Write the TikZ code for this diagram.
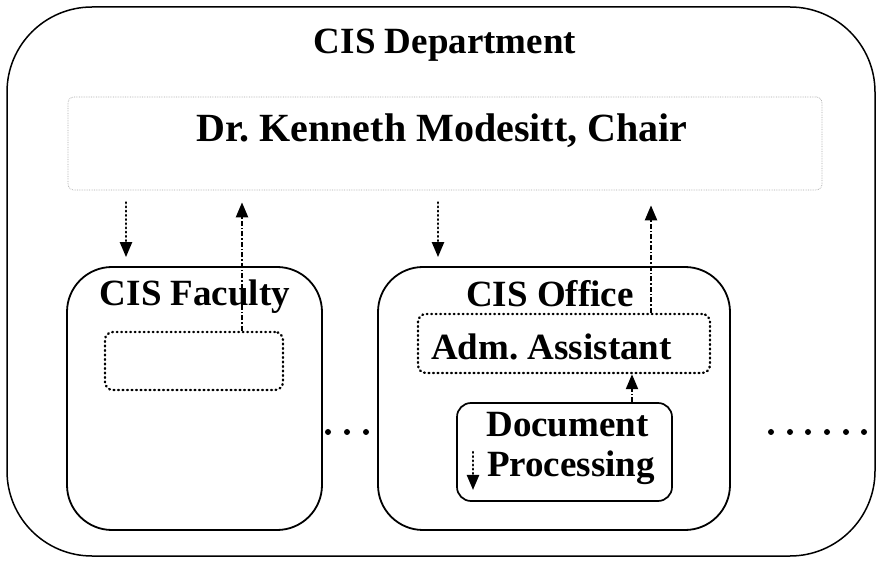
\documentclass[tikz,border=0pt]{standalone}
\usepackage{fontspec}
\setmainfont{Liberation Serif}
\usetikzlibrary{arrows.meta}
\begin{document}
\begin{tikzpicture}[x=1pt,y=-1pt,
  box/.style={draw, inner sep=0pt, line width=1.8pt},
  dotbox/.style={draw, inner sep=0pt, line width=2.4pt, line cap=round, dash pattern=on 0.8pt off 3.7pt, rounded corners=8pt},
  faintbox/.style={draw=black!35, inner sep=0pt, line width=0.7pt, densely dotted, rounded corners=6pt},
  title/.style={font=\fontsize{37}{40}\selectfont\bfseries, anchor=base, inner sep=0pt},
  downarrow/.style={line width=2.3pt, line cap=round, dash pattern=on 0.8pt off 3.4pt, -{Triangle[width=12pt,length=15pt]}},
  uparrow/.style={line width=2.2pt, dash pattern=on 5pt off 2pt on 1.5pt off 2pt, -{Triangle[width=12pt,length=15pt]}},
  dotmark/.style={fill=black}]
\useasboundingbox (0,0) rectangle (879,561);

% department frame and the chair
\node[box, line width=1.5pt, rounded corners=85pt, minimum width=868pt, minimum height=549pt] (dept) at (441,281.5) {};
\node[title] (depttext) at (445,54) {CIS Department};
\node[faintbox, minimum width=754pt, minimum height=93pt] (chair) at (445,143.5) {};
\node[title, font=\fontsize{40}{44}\selectfont\bfseries] (chairtext) at (442,142) {Dr.\ Kenneth Modesitt, Chair};

% faculty unit
\node[box, rounded corners=45pt, minimum width=255pt, minimum height=263pt] (fac) at (194.5,398.5) {};
\node[title] (factext) at (195,306) {CIS Faculty};
\node[dotbox, minimum width=178pt, minimum height=58pt] (facin) at (194,361) {};

% office unit
\node[box, rounded corners=45pt, minimum width=352pt, minimum height=263pt] (off) at (554,398.5) {};
\node[title] (offtext) at (550,307) {CIS Office};
\node[dotbox, minimum width=292pt, minimum height=59pt] (adm) at (564,343.5) {};
\node[title] (admtext) at (551.5,360) {Adm.\ Assistant};
\node[box, line width=1.7pt, rounded corners=14pt, minimum width=215pt, minimum height=98pt] (doc) at (564.5,452) {};
\node[title] (doctext1) at (567.5,437) {Document};
\node[title] (doctext2) at (571,477) {Processing};

% columns of the connectors
\coordinate (c1) at (126,0);
\coordinate (c2) at (242,0);
\coordinate (c3) at (438,0);
\coordinate (c4) at (651,0);
\coordinate (c5) at (632,0);
\coordinate (s1) at (473,452);
\coordinate (s2) at (473,490);

% connectors
\draw[downarrow, shorten <=12pt, shorten >=9pt] (chair.south -| c1) -- (fac.north -| c1);
\draw[uparrow, shorten >=12pt] (facin.north -| c2) -- (chair.south -| c2);
\draw[downarrow, shorten <=12pt, shorten >=9pt] (chair.south -| c3) -- (off.north -| c3);
\draw[uparrow, shorten >=15pt] (adm.north -| c4) -- (chair.south -| c4);
\draw[uparrow] (doc.north -| c5) -- (adm.south -| c5);
\draw[downarrow] (s1) -- (s2);

% ellipsis marks
\foreach \x in {328,347,366} \fill[dotmark] (\x,432) circle (3pt);
\foreach \x in {771,790,808,827,846,864} \fill[dotmark] (\x,432) circle (3pt);
\end{tikzpicture}
\end{document}
